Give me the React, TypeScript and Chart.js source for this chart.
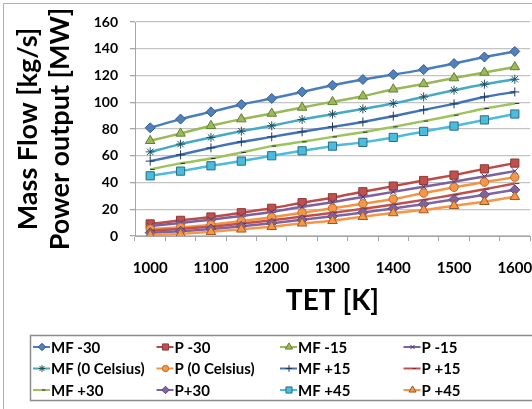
import React, { useEffect, useRef } from 'react';
import { Chart, registerables } from 'chart.js';
import { drawPoint } from 'chart.js/helpers';

Chart.register(...registerables);

// ---- data ----
const tetLabels = ['1000', '1050', '1100', '1150', '1200', '1250', '1300', '1350', '1400', '1450', '1500', '1550', '1600'];
const shownTickLabels = ['1000', '1100', '1200', '1300', '1400', '1500', '1600'];
const yTicks = [0, 20, 40, 60, 80, 100, 120, 140, 160];

const seriesNames = ['MF -30', 'P -30', 'MF -15', 'P -15', 'MF (0 Celsius)', 'P (0 Celsius)', 'MF +15', 'P +15', 'MF +30', 'P+30', 'MF +45', 'P +45'];

const mfMinus30 = [80.9, 87.4, 92.8, 98.3, 102.8, 107.7, 112.7, 117.0, 120.7, 124.4, 128.9, 133.8, 138.0];
const pMinus30 = [9.0, 11.7, 14.2, 17.4, 20.7, 24.9, 28.6, 33.1, 37.3, 41.5, 45.5, 50.2, 54.5];
const mfMinus15 = [71.2, 76.7, 82.4, 87.4, 91.6, 96.1, 100.3, 104.5, 109.7, 113.7, 118.1, 122.3, 126.4];
const pMinus15 = [7.5, 9.8, 12.2, 15.0, 18.0, 21.8, 25.3, 29.2, 33.0, 36.8, 40.6, 44.5, 48.5];
const mf0 = [62.9, 68.7, 73.7, 78.4, 82.4, 87.1, 91.1, 95.0, 99.1, 104.0, 109.0, 113.5, 117.2];
const p0 = [5.2, 6.5, 8.4, 11.2, 14.0, 17.4, 20.7, 24.1, 27.6, 32.1, 36.4, 40.3, 44.0];
const mfPlus15 = [56.0, 60.7, 65.9, 70.4, 74.1, 77.9, 81.6, 85.3, 89.6, 94.3, 98.8, 104.0, 107.7];
const pPlus15 = [4.0, 5.3, 7.0, 9.3, 11.8, 14.5, 17.3, 20.3, 23.5, 27.0, 30.8, 35.0, 39.2];
const mfPlus30 = [49.8, 54.3, 58.0, 62.5, 67.2, 70.4, 74.1, 77.6, 81.6, 85.9, 90.3, 95.3, 99.1];
const pPlus30 = [2.5, 3.6, 5.2, 7.3, 9.6, 12.1, 14.7, 17.6, 20.6, 23.8, 27.3, 30.8, 34.5];
const mfPlus45 = [45.0, 48.5, 52.5, 56.0, 60.0, 63.7, 67.2, 70.0, 73.7, 78.2, 82.2, 86.8, 91.2];
const pPlus45 = [0.7, 1.5, 3.2, 5.0, 6.9, 9.5, 11.4, 14.4, 17.2, 19.4, 22.6, 25.6, 29.3];

const seriesValues = [mfMinus30, pMinus30, mfMinus15, pMinus15, mf0, p0, mfPlus15, pPlus15, mfPlus30, pPlus30, mfPlus45, pPlus45];

// ---- styles ----
const seriesStyles = [
  { line: '#4A7EBB', style: 'rectRot', r: 5, bg: '#4F81BD', bd: '#385D8A' },
  { line: '#BE4B48', style: 'rect', r: 5.8, bg: '#C0504D', bd: '#8C3836' },
  { line: '#98B954', style: 'triangle', r: 5.5, bg: '#9BBB59', bd: '#667D38' },
  { line: '#7D60A0', style: 'crossRot', r: 4, bg: '#7D60A0', bd: '#4A3A60' },
  { line: '#46AAC5', style: 'star', r: 4.5, bg: '#46AAC5', bd: '#23505E' },
  { line: '#F69240', style: 'circle', r: 4.2, bg: '#F79646', bd: '#B66D31' },
  { line: '#4374B7', style: 'cross', r: 4.5, bg: '#4374B7', bd: '#1F3A5F' },
  { line: '#C0504D', style: 'dash', r: 4.5, bg: '#C0504D', bd: '#7A2A28' },
  { line: '#9DC45A', style: 'dash', r: 4.5, bg: '#9DC45A', bd: '#2E2E2E' },
  { line: '#8064A2', style: 'rectRot', r: 5, bg: '#8064A2', bd: '#5C4776' },
  { line: '#4BBCDD', style: 'rect', r: 5.8, bg: '#4BBCDD', bd: '#2C6E80' },
  { line: '#F79646', style: 'triangle', r: 5.5, bg: '#F79646', bd: '#9A5A25' },
];

const FONT = 'Lato';
const CANVAS_W = 540;
const CANVAS_H = 409;

const framePlugin = {
  id: 'frame',
  beforeDraw(chart: any) {
    const ctx = chart.ctx;
    ctx.save();
    ctx.fillStyle = '#FFFFFF';
    ctx.fillRect(0, 0, chart.width, chart.height);
    ctx.strokeStyle = '#AFAFAF';
    ctx.lineWidth = 1;
    ctx.beginPath();
    ctx.moveTo(3.5, chart.height);
    ctx.lineTo(3.5, 3.5);
    ctx.lineTo(chart.width, 3.5);
    ctx.stroke();
    ctx.restore();
  },
};

const gridLegendPlugin = {
  id: 'gridLegend',
  afterDraw(chart: any) {
    const ctx = chart.ctx;
    ctx.save();
    ctx.strokeStyle = '#8C8C8C';
    ctx.lineWidth = 1.5;
    ctx.strokeRect(30.5, 335.5, 520, 65);
    const rowsY = [347, 368.5, 390];
    chart.data.datasets.forEach((ds: any, i: number) => {
      const row = Math.floor(i / 4);
      const col = i % 4;
      const cx = 42 + 123.5 * col;
      const cy = rowsY[row];
      const st = seriesStyles[i];
      ctx.strokeStyle = st.line;
      ctx.lineWidth = 2;
      ctx.beginPath();
      ctx.moveTo(cx - 9, cy);
      ctx.lineTo(cx + 8, cy);
      ctx.stroke();
      ctx.fillStyle = st.bg;
      ctx.strokeStyle = st.bd;
      ctx.lineWidth = 1;
      drawPoint(ctx, { pointStyle: st.style, radius: st.r * 0.75, rotation: 0, borderWidth: 1 } as any, cx, cy);
      ctx.fillStyle = '#000000';
      ctx.font = `bold 15px ${FONT}`;
      ctx.textBaseline = 'middle';
      ctx.textAlign = 'left';
      ctx.fillText(ds.label, cx + 9, cy + 1);
    });
    ctx.restore();
  },
};

export default function App() {
  const canvasRef = useRef<HTMLCanvasElement | null>(null);

  useEffect(() => {
    if (!canvasRef.current) return;
    const datasets = seriesNames.map((name, i) => {
      const st = seriesStyles[i];
      return {
        label: name,
        data: seriesValues[i],
        borderColor: st.line,
        backgroundColor: st.bg,
        borderWidth: 2.5,
        tension: 0.2,
        fill: false,
        pointStyle: st.style,
        pointRadius: st.r,
        pointBackgroundColor: st.bg,
        pointBorderColor: st.bd,
        pointBorderWidth: 1,
        order: 12 - i,
      };
    });

    const chart = new Chart(canvasRef.current, {
      type: 'line',
      data: { labels: tetLabels, datasets },
      plugins: [framePlugin, gridLegendPlugin],
      options: {
        responsive: false,
        animation: false,
        devicePixelRatio: 1,
        layout: { padding: { left: 0, top: 22, right: 10, bottom: 89 } },
        plugins: {
          legend: { display: false },
          tooltip: { enabled: false },
        },
        scales: {
          x: {
            type: 'category',
            offset: true,
            grid: {
              offset: true,
              drawOnChartArea: false,
              drawTicks: true,
              tickLength: 5,
              color: '#A6A6A6',
              lineWidth: 1,
            },
            border: { color: '#A6A6A6', width: 1 },
            ticks: {
              autoSkip: false,
              maxRotation: 0,
              minRotation: 0,
              padding: 0,
              color: '#000000',
              font: { family: FONT, weight: 'bold', size: 15 },
              callback: (_v: any, idx: number) =>
                shownTickLabels.includes(tetLabels[idx]) ? ['', tetLabels[idx]] : '',
            },
            title: {
              display: true,
              text: 'TET [K]',
              color: '#000000',
              font: { family: FONT, weight: 'bold', size: 28 },
              padding: { top: 0, bottom: 2 },
            },
            afterFit: (s: any) => {
              s.height = 84;
            },
          },
          y: {
            min: yTicks[0],
            max: yTicks[yTicks.length - 1],
            afterBuildTicks: (s: any) => {
              s.ticks = yTicks.map((v) => ({ value: v }));
            },
            grid: {
              color: '#C3C3C3',
              lineWidth: 1.3,
              drawTicks: true,
              tickLength: 5,
              tickColor: '#A6A6A6',
            },
            border: { color: '#A6A6A6', width: 1 },
            ticks: {
              padding: 12,
              color: '#000000',
              font: { family: FONT, weight: 'bold', size: 14 },
            },
            title: {
              display: true,
              text: ['Mass Flow [kg/s]', 'Power output [MW]'],
              color: '#000000',
              font: { family: FONT, weight: 'bold', size: 27, lineHeight: 1.19 },
              padding: { top: 12, bottom: 0 },
            },
            afterFit: (s: any) => {
              s.width = 135;
            },
          },
        },
      } as any,
    });
    return () => chart.destroy();
  }, []);

  return (
    <div
      style={{
        position: 'fixed',
        left: 0,
        top: 0,
        width: 532,
        height: 409,
        overflow: 'hidden',
        background: '#fff',
      }}
    >
      <canvas ref={canvasRef} width={CANVAS_W} height={CANVAS_H} style={{ display: 'block', width: CANVAS_W, height: CANVAS_H }} />
    </div>
  );
}
